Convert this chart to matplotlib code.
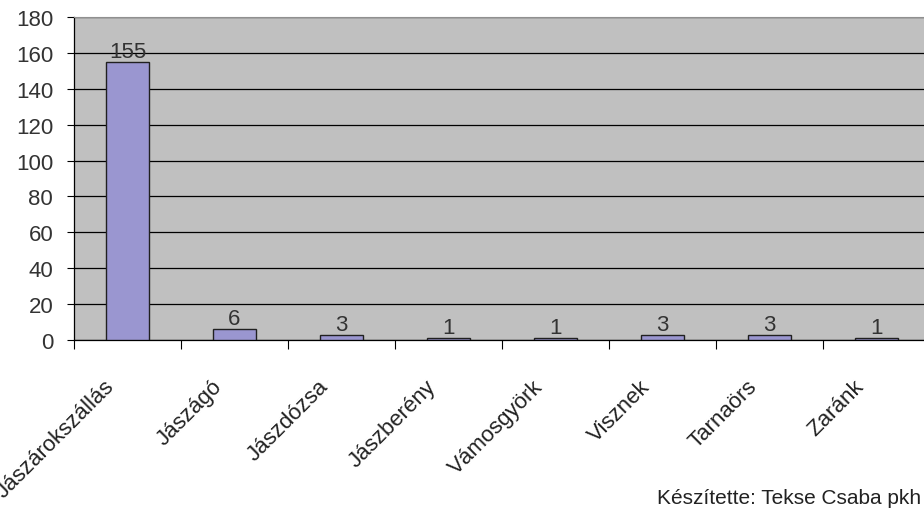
import matplotlib.pyplot as plt
from matplotlib.transforms import ScaledTranslation
import numpy as np

plt.rcParams['font.family'] = ['Liberation Sans', 'DejaVu Sans']

telepulesek = ['Jászárokszállás', 'Jászágó', 'Jászdózsa', 'Jászberény',
               'Vámosgyörk', 'Visznek', 'Tarnaörs', 'Zaránk']
ertekek = [155, 6, 3, 1, 1, 3, 3, 1]
y_ticks = [0, 20, 40, 60, 80, 100, 120, 140, 160, 180]

fig = plt.figure(figsize=(9.24, 5.1), dpi=100)
ax = fig.add_axes([0.0801, 0.3314, 0.9264, 0.6333])
ax.set_facecolor('#c0c0c0')

x = np.arange(len(telepulesek))
ax.bar(x, ertekek, width=0.4, color='#9a96d0', edgecolor='#202020', linewidth=1.0, zorder=3)

for xi, v in zip(x, ertekek):
    ax.annotate(str(v), (xi, v), xytext=(0, 3.5), textcoords='offset points',
                ha='center', va='baseline', fontsize=16, color='#333333', zorder=4)

ax.set_xlim(-0.5, len(telepulesek) - 0.5)
ax.set_ylim(0, 180)
ax.set_yticks(y_ticks)
ax.yaxis.grid(True, color='black', linewidth=0.9, zorder=1)
ax.set_axisbelow(True)

# ticks between categories, labels drawn as text below the centers
ax.set_xticks(np.arange(len(telepulesek) + 1) - 0.5)
ax.set_xticklabels([])
ax.tick_params(axis='x', which='major', length=6.5, direction='out', color='black')
ax.tick_params(axis='y', length=5, direction='out', labelsize=16, labelcolor='#333333', pad=10)

eltolas = ax.get_xaxis_transform() + ScaledTranslation(-0.16, -0.43, fig.dpi_scale_trans)
for xi, nev in zip(x, telepulesek):
    ax.text(xi, 0, nev, transform=eltolas, rotation=45, rotation_mode='anchor',
            ha='right', va='center', fontsize=16, color='#222222', clip_on=False)

ax.spines['top'].set_color('#909090')
ax.spines['right'].set_visible(False)
for s in ['left', 'bottom']:
    ax.spines[s].set_color('black')
    ax.spines[s].set_linewidth(0.9)

fig.text(0.997, 0.012, 'Készítette: Tekse Csaba pkh', ha='right', va='baseline',
         fontsize=15, color='#222222')

fig.savefig('out.png', dpi=100)
